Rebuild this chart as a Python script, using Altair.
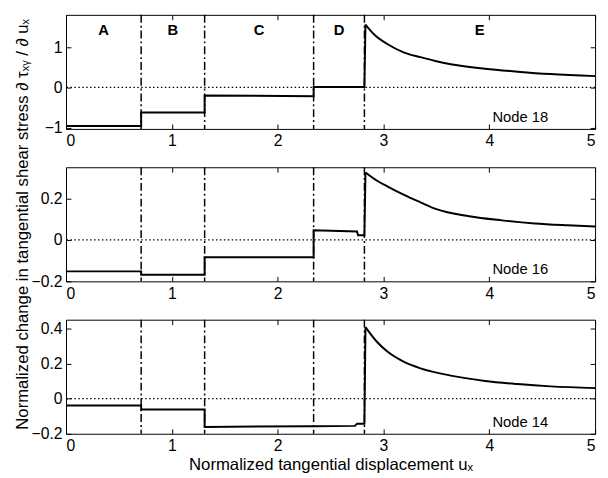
import altair as alt
import pandas as pd

FONT = "Liberation Sans"

boundaries = [0.71, 1.31, 2.34, 2.82]
region_names = ["A", "B", "C", "D", "E"]
x_ticks = [0, 1, 2, 3, 4, 5]

# Node 18: piecewise-constant part (ends at the peak) and decay part (starts at the peak)
x18_step = [0, 0.71, 0.71, 1.31, 1.31, 2.34, 2.34, 2.82, 2.83]
y18_step = [-0.96, -0.96, -0.62, -0.62, -0.2, -0.22, 0.01, 0.01, 1.56]
x18_decay = [2.83, 2.91, 3.04, 3.19, 3.35, 3.5, 3.65, 3.96, 4.27, 4.58, 5.0]
y18_decay = [1.56, 1.32, 1.07, 0.87, 0.75, 0.65, 0.57, 0.465, 0.39, 0.33, 0.28]
# Node 16
x16_step = [0, 0.71, 0.71, 1.31, 1.31, 2.34, 2.34, 2.75, 2.76, 2.82, 2.83]
y16_step = [-0.152, -0.152, -0.168, -0.168, -0.084, -0.084, 0.046, 0.040, 0.022, 0.022, 0.325]
x16_decay = [2.83, 2.94, 3.04, 3.19, 3.35, 3.5, 3.81, 4.12, 4.43, 4.74, 5.0]
y16_decay = [0.325, 0.285, 0.257, 0.218, 0.181, 0.148, 0.114, 0.094, 0.079, 0.07, 0.064]
# Node 14
x14_step = [0, 0.71, 0.71, 1.31, 1.31, 2.34, 2.73, 2.75, 2.82, 2.83]
y14_step = [-0.039, -0.039, -0.062, -0.062, -0.161, -0.157, -0.155, -0.143, -0.143, 0.408]
x14_decay = [2.83, 2.94, 3.04, 3.19, 3.35, 3.65, 3.96, 4.27, 4.58, 5.0]
y14_decay = [0.408, 0.323, 0.267, 0.211, 0.173, 0.13, 0.101, 0.083, 0.07, 0.06]

node_names = ["Node 18", "Node 16", "Node 14"]
y_domains = [[-1.03, 1.8], [-0.2, 0.35], [-0.2, 0.45]]
y_ticks = [[-1, 0, 1], [-0.2, 0, 0.2], [-0.2, 0, 0.2, 0.4]]
steps_x = [x18_step, x16_step, x14_step]
steps_y = [y18_step, y16_step, y14_step]
decay_x = [x18_decay, x16_decay, x14_decay]
decay_y = [y18_decay, y16_decay, y14_decay]

y_title = "Normalized change in tangential shear stress \u2202 \u03c4\u2093\u1d67 / \u2202 u\u2093"
x_title = "Normalized tangential displacement u\u2093"

W, H = 538, 116


def panel(k):
    sdf = pd.DataFrame({"x": steps_x[k], "y": steps_y[k], "i": list(range(len(steps_x[k])))})
    ddf = pd.DataFrame({"x": decay_x[k], "y": decay_y[k], "i": list(range(len(decay_x[k])))})
    xscale = alt.Scale(domain=[0, 5], nice=False, zero=False)
    yscale = alt.Scale(domain=y_domains[k], nice=False, zero=False)

    last = k == 2
    bottom_axis = alt.Axis(
        orient="bottom", values=x_ticks, offset=-5, tickSize=5, domain=False,
        grid=False, labelPadding=4, format="d",
        title=x_title if last else None,
        titleFontSize=17, titleFontWeight="normal", titlePadding=3,
        titleFont=FONT,
    )
    left_axis = alt.Axis(
        orient="left", values=y_ticks[k], offset=-5, tickSize=5, domain=False,
        grid=False, labelPadding=4, format="~g", title=None,
    )
    top_axis = alt.Axis(
        orient="top", values=x_ticks, offset=-5, tickSize=5, domain=False,
        grid=False, labels=False, title=None,
    )
    right_axis = alt.Axis(
        orient="right", values=y_ticks[k], offset=-5, tickSize=5, domain=False,
        grid=False, labels=False, title=None,
    )

    zero = alt.Chart(pd.DataFrame({"z": [0]})).mark_rule(
        color="black", strokeDash=[1.5, 2.5], strokeWidth=1.2
    ).encode(y=alt.Y("z:Q", scale=yscale, axis=None))

    bnd = alt.Chart(pd.DataFrame({"b": boundaries})).mark_rule(
        color="black", strokeDash=[8, 3, 2, 3], strokeWidth=1.5
    ).encode(x=alt.X("b:Q", scale=xscale, axis=None))

    step_line = alt.Chart(sdf).mark_line(color="black", strokeWidth=2).encode(
        x=alt.X("x:Q", scale=xscale, axis=bottom_axis),
        y=alt.Y("y:Q", scale=yscale, axis=left_axis),
        order=alt.Order("i:Q"),
    )
    decay_line = alt.Chart(ddf).mark_line(
        color="black", strokeWidth=2, interpolate="monotone"
    ).encode(
        x=alt.X("x:Q", scale=xscale, axis=None),
        y=alt.Y("y:Q", scale=yscale, axis=None),
        order=alt.Order("i:Q"),
    )
    ghost = alt.Chart(sdf).mark_line(strokeOpacity=0).encode(
        x=alt.X("x:Q", scale=xscale, axis=top_axis),
        y=alt.Y("y:Q", scale=yscale, axis=right_axis),
        order=alt.Order("i:Q"),
    )
    node = alt.Chart(pd.DataFrame({"t": [node_names[k]]})).mark_text(
        font=FONT, fontSize=15, color="black"
    ).encode(text="t:N", x=alt.value(462), y=alt.value(H - 12))

    layers = [zero, bnd, step_line, decay_line, ghost, node]

    if k == 0:
        edges = [0] + boundaries + [5]
        mids = [(edges[j] + edges[j + 1]) / 2 for j in range(len(region_names))]
        reg = alt.Chart(pd.DataFrame({"m": mids, "r": region_names})).mark_text(
            font=FONT, fontSize=15, fontWeight="bold", color="black"
        ).encode(x=alt.X("m:Q", scale=xscale, axis=None), text="r:N", y=alt.value(15))
        layers.append(reg)
    if k == 1:
        yt = alt.Chart(pd.DataFrame({"t": [y_title]})).mark_text(
            font=FONT, fontSize=17, color="black", angle=270, align="center", baseline="middle"
        ).encode(text="t:N", x=alt.value(-44), y=alt.value(58))
        layers.append(yt)

    return alt.layer(*layers).resolve_axis(x="independent", y="independent").properties(
        width=W, height=H
    )


chart = alt.vconcat(panel(0), panel(1), panel(2), spacing=39, bounds="flush").configure_view(
    stroke="black", strokeWidth=1
).configure_axis(
    labelFont=FONT, labelFontSize=16, labelColor="black", tickColor="black",
    tickWidth=1, titleColor="black",
).properties(padding={"left": 5, "top": 1, "right": 0, "bottom": 0})

chart.save("out.html", embed_options={"renderer": "svg", "actions": False})
